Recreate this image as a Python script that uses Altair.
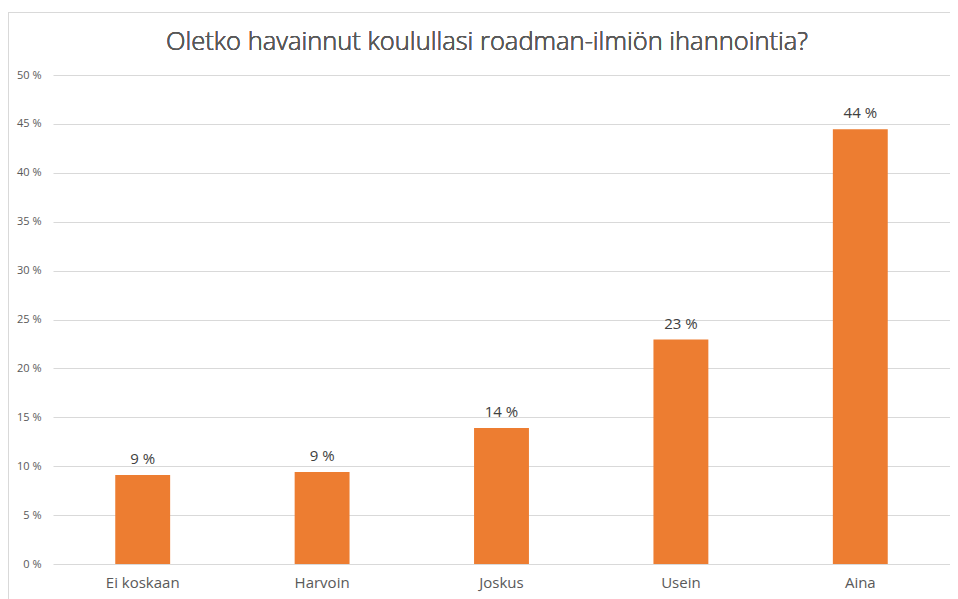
import altair as alt
import pandas as pd

categories = ["Ei koskaan", "Harvoin", "Joskus", "Usein", "Aina"]
values = [9.1, 9.4, 13.9, 22.95, 44.45]
labels = ["9 %", "9 %", "14 %", "23 %", "44 %"]
y_ticks = [0, 5, 10, 15, 20, 25, 30, 35, 40, 45, 50]

df = pd.DataFrame({"cat": categories, "val": values, "lab": labels})

FONT = "Open Sans"
GREY = "#595959"

x = alt.X("cat:N", sort=categories, title=None,
          scale=alt.Scale(paddingInner=0.694, paddingOuter=0.347),
          axis=alt.Axis(labelAngle=0, domain=False, ticks=False, labelFontSize=15,
                        labelColor=GREY, labelFont=FONT, labelPadding=11))
y = alt.Y("val:Q", title=None,
          scale=alt.Scale(domain=[0, 50], nice=False),
          axis=alt.Axis(values=y_ticks, labelExpr="datum.value + ' %'", domain=False,
                        ticks=False, gridColor="#d9d9d9", gridWidth=1,
                        labelFontSize=11, labelColor=GREY, labelFont=FONT, labelPadding=12))

base = alt.Chart(df)

border = base.mark_rect(fill=None, stroke="#d9d9d9", strokeWidth=1, clip=False).encode(
    x=alt.value(-44.5), x2=alt.value(960), y=alt.value(-62.5), y2=alt.value(560)
)

bars = base.mark_bar(color="#ED7D31").encode(x=x, y=y)

text = base.mark_text(dy=-11, baseline="alphabetic", fontSize=15, font=FONT,
                      color="#404040", fontWeight=500).encode(
    x=alt.X("cat:N", sort=categories), y="val:Q", text="lab:N")

title = base.mark_text(fontSize=25.5, font=FONT, color=GREY, baseline="alphabetic",
                       align="center", fontWeight=300).encode(
    x=alt.value(434), y=alt.value(-25),
    text=alt.value("Oletko havainnut koulullasi roadman-ilmiön ihannointia?"))

chart = alt.layer(bars, text, title, border).properties(
    width=897, height=489,
    autosize=alt.AutoSizeParams(type="none"),
    padding={"left": 45, "top": 67, "right": 0, "bottom": 35},
).configure_view(stroke=None)

chart.save("out.html", embed_options={"renderer": "svg", "actions": False})
